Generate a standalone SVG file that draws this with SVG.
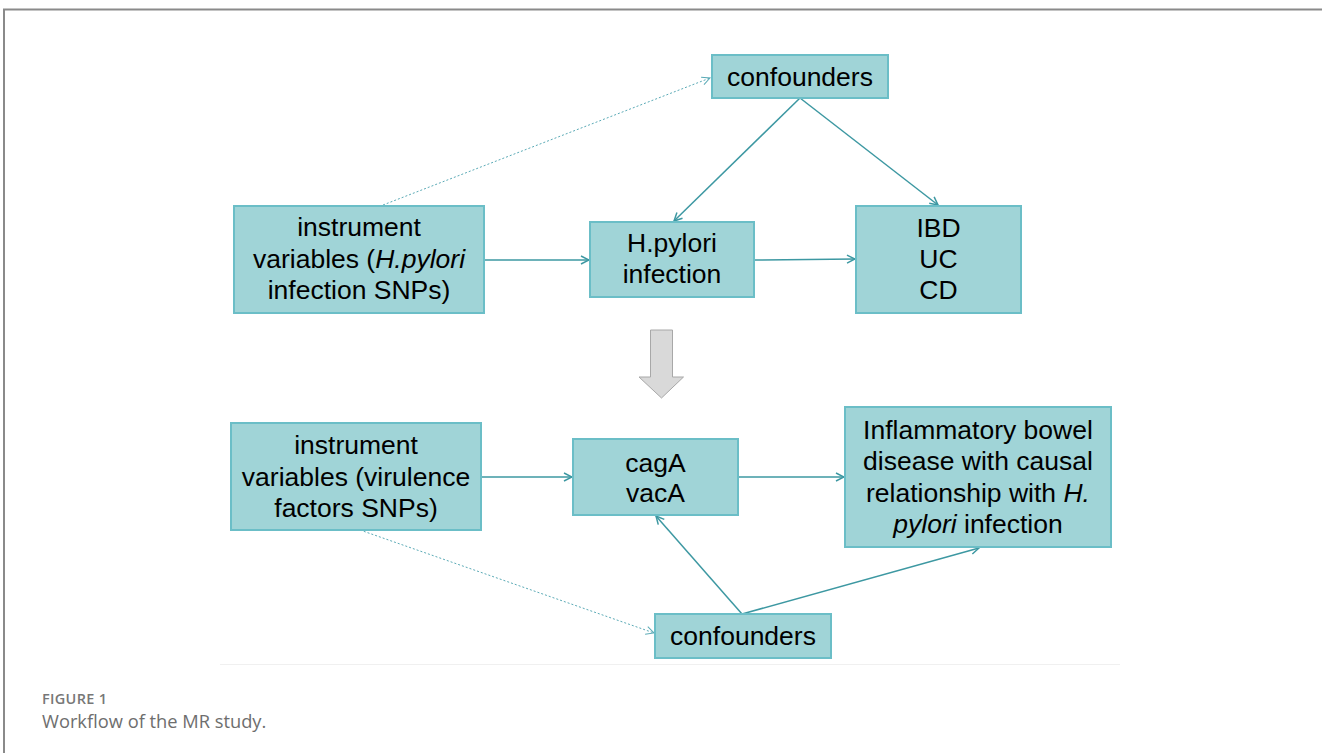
<svg xmlns="http://www.w3.org/2000/svg" width="1322" height="753" viewBox="0 0 1322 753">
<defs>
<style>
.box{fill:#a0d4d7;stroke:#6bbec7;stroke-width:2}
.t{font-family:"Liberation Sans",Arial,sans-serif;font-size:26.5px;fill:#000;text-anchor:middle}
.c{fill:none;stroke:#3d98a2;stroke-width:1.5}
.d{fill:none;stroke:#5aaab6;stroke-width:1;stroke-dasharray:2 2}
</style>
<marker id="ah" viewBox="0 0 10 10" refX="9" refY="5" markerWidth="10" markerHeight="10" markerUnits="userSpaceOnUse" orient="auto">
<path d="M1,1 L9,5 L1,9" fill="none" stroke="#3d98a2" stroke-width="1.5"/>
</marker>
<marker id="ahd" viewBox="0 0 10 10" refX="9" refY="5" markerWidth="10" markerHeight="10" markerUnits="userSpaceOnUse" orient="auto">
<path d="M1,1 L9,5 L1,9" fill="none" stroke="#5aaab6" stroke-width="1"/>
</marker>
</defs>
<rect width="1322" height="753" fill="#ffffff"/>
<path d="M4,753 L4,9.5 L1322,9.5" fill="none" stroke="#8a8a8a" stroke-width="2"/>
<line x1="220" y1="664.5" x2="1120" y2="664.5" stroke="#f0f0f0" stroke-width="1"/>

<g id="connectors">
<line class="d" x1="383" y1="205" x2="710" y2="78" marker-end="url(#ahd)"/>
<line class="c" x1="800" y1="98" x2="674" y2="221" marker-end="url(#ah)"/>
<line class="c" x1="800" y1="98" x2="938" y2="205" marker-end="url(#ah)"/>
<line class="c" x1="484" y1="260" x2="589" y2="260" marker-end="url(#ah)"/>
<line class="c" x1="754" y1="260" x2="855" y2="259" marker-end="url(#ah)"/>
<line class="c" x1="481" y1="477" x2="572" y2="477" marker-end="url(#ah)"/>
<line class="c" x1="738" y1="477" x2="844" y2="477" marker-end="url(#ah)"/>
<line class="d" x1="360" y1="530" x2="654" y2="633" marker-end="url(#ahd)"/>
<line class="c" x1="742" y1="614" x2="656" y2="516" marker-end="url(#ah)"/>
<line class="c" x1="742" y1="614" x2="979" y2="548" marker-end="url(#ah)"/>
</g>

<g id="conf-top">
<rect class="box" x="712" y="55" width="176" height="43"/>
<text class="t" x="800" y="86">confounders</text>
</g>
<g id="iv-top">
<rect class="box" x="234" y="206" width="250" height="107"/>
<text class="t" x="359" y="236">instrument</text>
<text class="t" x="359" y="268">variables (<tspan font-style="italic">H.pylori</tspan></text>
<text class="t" x="359" y="299">infection SNPs)</text>
</g>
<g id="hpylori">
<rect class="box" x="590" y="222" width="164" height="75"/>
<text class="t" x="672" y="252">H.pylori</text>
<text class="t" x="672" y="283">infection</text>
</g>
<g id="ibd">
<rect class="box" x="856" y="206" width="165" height="107"/>
<text class="t" x="938.5" y="237">IBD</text>
<text class="t" x="938.5" y="268">UC</text>
<text class="t" x="938.5" y="299">CD</text>
</g>
<g id="down-arrow">
<path d="M650.5,330 L672.5,330 L672.5,377 L683.5,377 L661.5,398 L639,377 L650.5,377 Z" fill="#d9d9d9" stroke="#a8a8a8" stroke-width="1"/>
</g>
<g id="iv-bottom">
<rect class="box" x="231" y="423" width="250" height="107"/>
<text class="t" x="356" y="454">instrument</text>
<text class="t" x="356" y="486">variables (virulence</text>
<text class="t" x="356" y="517">factors SNPs)</text>
</g>
<g id="cag">
<rect class="box" x="573" y="439" width="165" height="76"/>
<text class="t" x="655.5" y="472">cagA</text>
<text class="t" x="655.5" y="502">vacA</text>
</g>
<g id="ibd-causal">
<rect class="box" x="845" y="407" width="266" height="140"/>
<text class="t" x="978" y="439">Inflammatory bowel</text>
<text class="t" x="978" y="470">disease with causal</text>
<text class="t" x="978" y="502">relationship with <tspan font-style="italic">H.</tspan></text>
<text class="t" x="978" y="533"><tspan font-style="italic">pylori</tspan> infection</text>
</g>
<g id="conf-bottom">
<rect class="box" x="655" y="614" width="176" height="44"/>
<text class="t" x="743" y="645">confounders</text>
</g>

<text x="42" y="704" font-family="Open Sans, sans-serif" font-size="14.5" font-weight="600" letter-spacing="0.3" fill="#777777">FIGURE 1</text>
<text x="42" y="728" font-family="Open Sans, sans-serif" font-size="18.3" fill="#6e6e6e">Workflow of the MR study.</text>
</svg>
